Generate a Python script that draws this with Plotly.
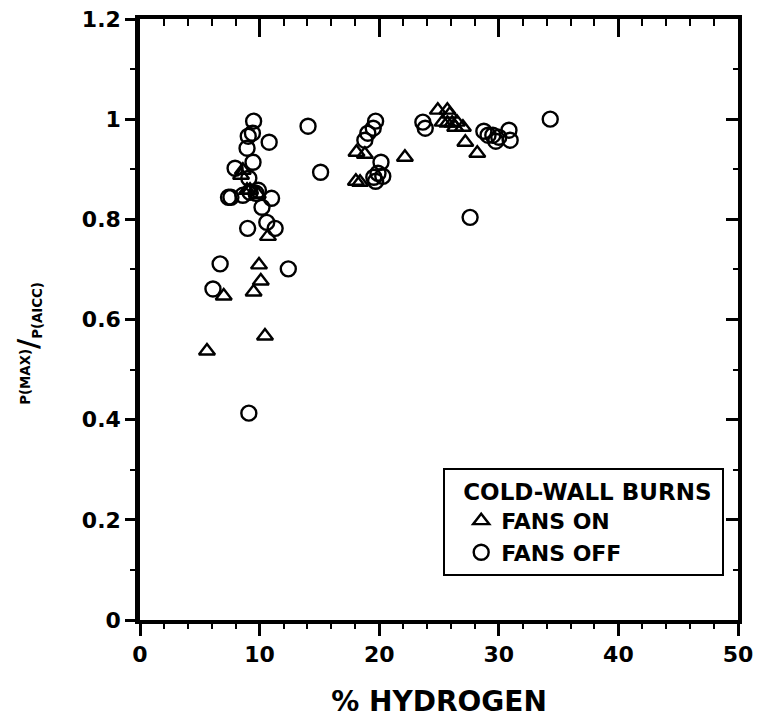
import plotly.graph_objects as go

# Peak pressure ratio vs hydrogen concentration, cold-wall burns
fans_on_x = [5.6, 7.0, 9.5, 10.1, 9.95, 10.45, 10.7, 8.45, 8.6, 8.95, 9.2, 9.85,
             18.1, 18.8, 18.05, 18.4, 22.15, 24.9, 25.7, 25.9, 25.3, 25.7, 26.1,
             26.5, 26.35, 27.0, 27.2, 28.2]
fans_on_y = [0.537, 0.647, 0.655, 0.677, 0.709, 0.567, 0.766, 0.888, 0.898, 0.858,
             0.858, 0.850, 0.934, 0.930, 0.876, 0.874, 0.924, 1.018, 1.018, 1.010,
             0.994, 0.992, 0.992, 0.994, 0.984, 0.984, 0.954, 0.932]

fans_off_x = [9.5, 9.05, 9.4, 10.8, 8.95, 7.95, 9.45, 9.1, 7.4, 7.6, 8.6, 9.2, 9.7,
              9.9, 11.0, 10.2, 10.6, 9.0, 11.3, 6.7, 6.1, 12.4, 9.1, 14.05, 15.1,
              19.7, 19.5, 19.05, 18.8, 20.15, 19.9, 19.55, 20.3, 19.7, 23.65, 23.85,
              28.75, 29.1, 29.75, 29.5, 30.85, 30.95, 30.0, 34.3, 27.6]
fans_off_y = [0.996, 0.966, 0.972, 0.954, 0.942, 0.902, 0.914, 0.882, 0.844, 0.844,
              0.848, 0.854, 0.852, 0.858, 0.842, 0.824, 0.794, 0.782, 0.782, 0.711,
              0.661, 0.701, 0.413, 0.986, 0.894, 0.996, 0.982, 0.972, 0.958, 0.914,
              0.892, 0.884, 0.886, 0.876, 0.994, 0.982, 0.976, 0.968, 0.956, 0.968,
              0.978, 0.958, 0.964, 1.0, 0.804]

x_ticks = [0, 10, 20, 30, 40, 50]
y_ticks = [0, 0.2, 0.4, 0.6, 0.8, 1.0, 1.2]

FONT = "DejaVu Sans"
INK = "black"
NBSP = "\u00a0"

fig = go.Figure()
fig.add_trace(go.Scatter(
    x=fans_on_x, y=fans_on_y, mode="markers", name="FANS ON",
    marker=dict(symbol="triangle-up-open", size=14, color=INK,
                line=dict(width=2.4, color=INK)),
))
fig.add_trace(go.Scatter(
    x=fans_off_x, y=fans_off_y, mode="markers", name="FANS OFF",
    marker=dict(symbol="circle-open", size=15, color=INK,
                line=dict(width=2.4, color=INK)),
))
# empty trace that carries the mirrored top/right axes
fig.add_trace(go.Scatter(x=[], y=[], xaxis="x2", yaxis="y2", showlegend=False,
                         hoverinfo="skip"))

tickfont = dict(family=FONT, size=22, color=INK, weight="bold")

fig.update_layout(
    width=757, height=721,
    margin=dict(l=140, r=19, t=19, b=101, autoexpand=False),
    paper_bgcolor="white", plot_bgcolor="white",
    font=dict(family=FONT, color=INK),
    xaxis=dict(
        range=[0, 50], tickvals=x_ticks, ticks="outside", ticklen=12,
        tickwidth=2.5, tickcolor=INK, showline=True, linewidth=3.5, linecolor=INK,
        showgrid=False, zeroline=False, tickfont=tickfont, automargin=False,
        minor=dict(dtick=2, ticks="outside", ticklen=5, tickwidth=2, tickcolor=INK),
        title=dict(text="% HYDROGEN", standoff=26,
                   font=dict(family=FONT, size=28, color=INK, weight="bold")),
    ),
    xaxis2=dict(
        range=[0, 50], overlaying="x", side="top", tickvals=x_ticks,
        ticks="inside", ticklen=18, tickwidth=2.5, tickcolor=INK,
        showticklabels=False, showline=True, linewidth=4, linecolor=INK,
        showgrid=False, zeroline=False, automargin=False,
        minor=dict(dtick=2, ticks="inside", ticklen=7, tickwidth=2, tickcolor=INK),
    ),
    yaxis=dict(
        range=[0, 1.2], tickvals=y_ticks, ticks="outside", ticklen=10,
        tickwidth=2.5, tickcolor=INK, showline=True, linewidth=4.5, linecolor=INK,
        showgrid=False, zeroline=False, tickfont=tickfont, automargin=False,
        minor=dict(dtick=0.1, ticks="outside", ticklen=5, tickwidth=2, tickcolor=INK),
    ),
    yaxis2=dict(
        range=[0, 1.2], overlaying="y", side="right", tickvals=y_ticks,
        ticks="inside", ticklen=12, tickwidth=2.5, tickcolor=INK,
        showticklabels=False, showline=True, linewidth=3.5, linecolor=INK,
        showgrid=False, zeroline=False, automargin=False,
        minor=dict(dtick=0.1, ticks="inside", ticklen=5, tickwidth=2, tickcolor=INK),
    ),
    legend=dict(
        x=0.507, y=0.253, xanchor="left", yanchor="top",
        bgcolor="white", bordercolor=INK, borderwidth=2,
        font=dict(family=FONT, size=22, color=INK, weight="bold"),
        title=dict(text=NBSP * 2 + "COLD-WALL BURNS" + NBSP,
                   font=dict(family=FONT, size=23, color=INK, weight="bold")),
        itemsizing="trace", indentation=16, tracegroupgap=0,
    ),
    annotations=[dict(
        text="<sup>P(MAX)</sup><span style='font-size:28px'>/</span><sub>P(AICC)</sub>",
        xref="paper", yref="paper", x=-0.186, y=0.461,
        xanchor="center", yanchor="middle", textangle=-90, showarrow=False,
        font=dict(family=FONT, size=19, color=INK, weight="bold"),
    )],
    showlegend=True,
)

fig.write_html("out.html")
